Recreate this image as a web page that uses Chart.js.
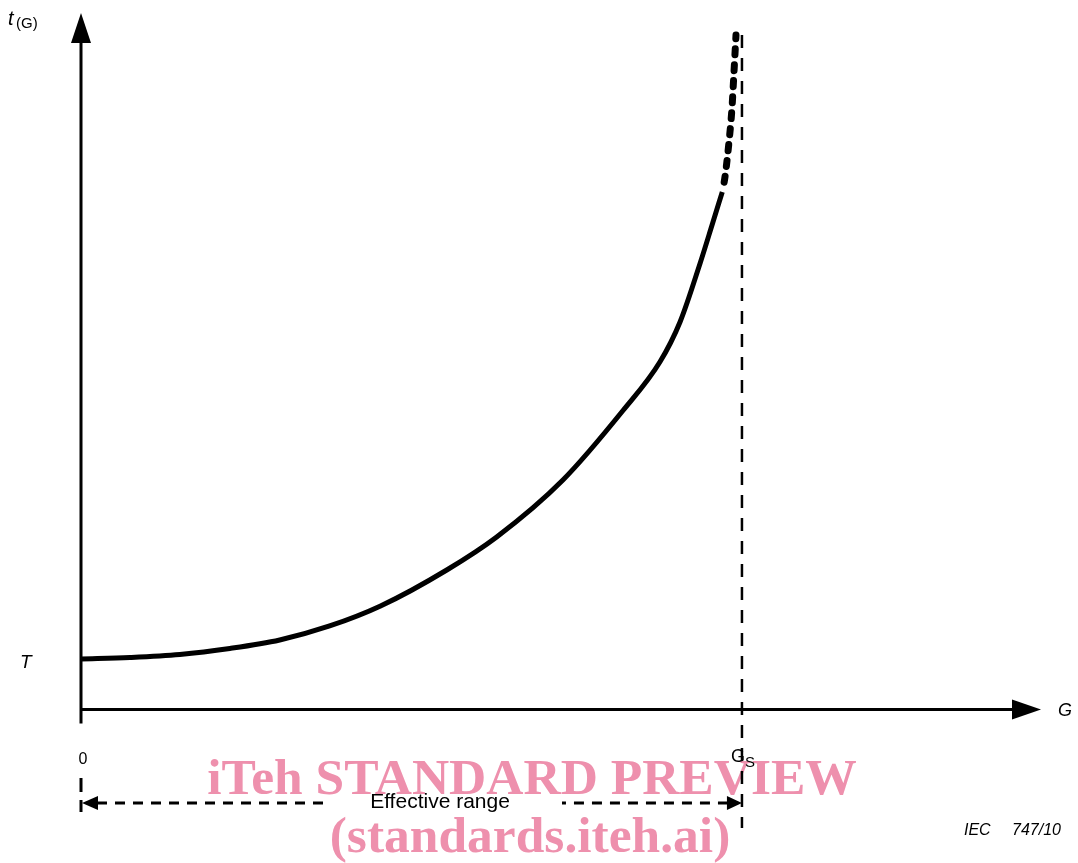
<!DOCTYPE html>
<html>
<head>
<meta charset="utf-8">
<script src="https://cdn.jsdelivr.net/npm/chart.js@4.4.1/dist/chart.umd.min.js"></script>
<style>
  html, body { margin: 0; padding: 0; background: #ffffff; }
  #wrap { width: 1078px; height: 863px; }
</style>
</head>
<body>
<div id="wrap"><canvas id="c" width="1078" height="863"></canvas></div>
<script>
// Measured curve t(G) (solid part, effective range)
const gValues = [0, 5.1, 10.3, 15.5, 20.7, 25.9, 31.2, 38.1, 43.3, 50.2, 56.5, 60.3, 62.4, 64.5, 65.8, 66.8];
const tValues = [7.25, 7.47, 7.9, 8.76, 9.98, 11.99, 14.86, 20.03, 24.77, 32.95, 43.0, 49.89, 55.64, 64.11, 69.85, 74.3];
// Extrapolated part (dashed) approaching saturation
const gExtrap = [66.8, 67.08, 67.5, 67.81, 68.02, 68.23];
const tExtrap = [74.3, 76.44, 81.5, 86.36, 91.53, 96.84];
// Reference values
const gSaturation = 68.85;
const gZero = 0;
const tThreshold = 7.25;
// Labels
const xAxisLabel = 'G';
const yAxisLabel = 't';
const yAxisSub = '(G)';
const tLabel = 'T';
const zeroLabel = '0';
const gsLabel = 'G';
const gsSub = 'S';
const rangeLabel = 'Effective range';
const figureId = ['IEC', '747/10'];
const watermark = ['iTeh STANDARD PREVIEW', '(standards.iteh.ai)'];

const solidData = gValues.map((g, i) => ({ x: g, y: tValues[i] }));
const dashData = gExtrap.map((g, i) => ({ x: g, y: tExtrap[i] }));

function arrowHead(ctx, tipX, tipY, dir, len, half) {
  ctx.beginPath();
  if (dir === 'up') {
    ctx.moveTo(tipX, tipY); ctx.lineTo(tipX - half, tipY + len); ctx.lineTo(tipX + half, tipY + len);
  } else if (dir === 'right') {
    ctx.moveTo(tipX, tipY); ctx.lineTo(tipX - len, tipY - half); ctx.lineTo(tipX - len, tipY + half);
  } else if (dir === 'left') {
    ctx.moveTo(tipX, tipY); ctx.lineTo(tipX + len, tipY - half); ctx.lineTo(tipX + len, tipY + half);
  }
  ctx.closePath();
  ctx.fill();
}

const decor = {
  id: 'decor',
  beforeDatasetsDraw(chart) {
    const ctx = chart.ctx;
    const xs = chart.scales.x, ys = chart.scales.y;
    const x0 = xs.getPixelForValue(gZero);
    const y0 = ys.getPixelForValue(0);
    const xGs = xs.getPixelForValue(gSaturation);
    const xEnd = xs.getPixelForValue(xs.max);
    const yTop = ys.getPixelForValue(ys.max);
    ctx.save();
    // watermark
    ctx.fillStyle = '#EE90AD';
    ctx.font = 'bold 51.5px "Liberation Serif", "Times New Roman", serif';
    ctx.textAlign = 'center';
    ctx.textBaseline = 'alphabetic';
    ctx.fillText(watermark[0], 532, 794);
    ctx.fillText(watermark[1], 530, 852);

    ctx.strokeStyle = '#000';
    ctx.fillStyle = '#000';
    // y axis
    ctx.lineWidth = 3;
    ctx.setLineDash([]);
    ctx.beginPath();
    ctx.moveTo(x0, y0 + 14);
    ctx.lineTo(x0, yTop + 25);
    ctx.stroke();
    arrowHead(ctx, x0, yTop, 'up', 30, 10);
    // x axis
    ctx.beginPath();
    ctx.moveTo(x0 - 1, y0);
    ctx.lineTo(xEnd - 25, y0);
    ctx.stroke();
    arrowHead(ctx, xEnd, y0, 'right', 29, 10);

    // Gs vertical dashed line
    ctx.lineWidth = 2.5;
    ctx.setLineDash([13, 10]);
    ctx.beginPath();
    ctx.moveTo(xGs, 35);
    ctx.lineTo(xGs, 828);
    ctx.stroke();

    // zero vertical dashed tick
    ctx.lineWidth = 3;
    ctx.setLineDash([14, 8]);
    ctx.beginPath();
    ctx.moveTo(x0, 778);
    ctx.lineTo(x0, 812);
    ctx.stroke();

    // effective range arrow
    const yR = 803;
    ctx.setLineDash([10, 8]);
    ctx.beginPath();
    ctx.moveTo(x0 + 16, yR);
    ctx.lineTo(323, yR);
    ctx.stroke();
    ctx.beginPath();
    ctx.moveTo(xGs - 14, yR);
    ctx.lineTo(562, yR);
    ctx.stroke();
    ctx.setLineDash([]);
    arrowHead(ctx, x0 + 1, yR, 'left', 16, 7);
    arrowHead(ctx, xGs, yR, 'right', 15, 7);

    // texts
    ctx.textAlign = 'left';
    ctx.font = 'italic 20px "Liberation Sans", Arial, sans-serif';
    ctx.fillText(yAxisLabel, 8, 25);
    ctx.font = '15px "Liberation Sans", Arial, sans-serif';
    ctx.fillText(yAxisSub, 16, 28);

    ctx.font = 'italic 19px "Liberation Sans", Arial, sans-serif';
    ctx.fillText(tLabel, 20, ys.getPixelForValue(tThreshold) + 9);

    ctx.font = 'italic 18px "Liberation Sans", Arial, sans-serif';
    ctx.fillText(xAxisLabel, 1058, 716);

    ctx.font = '16px "Liberation Sans", Arial, sans-serif';
    ctx.textAlign = 'center';
    ctx.fillText(zeroLabel, x0 + 2, 764);

    ctx.textAlign = 'left';
    ctx.font = '18px "Liberation Sans", Arial, sans-serif';
    ctx.fillText(gsLabel, xGs - 11, 762);
    ctx.font = '15px "Liberation Sans", Arial, sans-serif';
    ctx.fillText(gsSub, xGs + 3, 767);

    ctx.textAlign = 'center';
    ctx.font = '21px "Liberation Sans", Arial, sans-serif';
    ctx.fillText(rangeLabel, 440, 808);

    ctx.textAlign = 'left';
    ctx.font = 'italic 16px "Liberation Sans", Arial, sans-serif';
    ctx.fillText(figureId[0], 964, 835);
    ctx.fillText(figureId[1], 1012, 835);
    ctx.restore();
  }
};

new Chart(document.getElementById('c'), {
  type: 'line',
  data: {
    datasets: [
      {
        data: solidData,
        borderColor: '#000',
        borderWidth: 5,
        pointRadius: 0,
        fill: false,
        cubicInterpolationMode: 'monotone',
        borderCapStyle: 'butt'
      },
      {
        data: dashData,
        borderColor: '#000',
        borderWidth: 7,
        pointRadius: 0,
        fill: false,
        cubicInterpolationMode: 'monotone',
        borderDash: [6, 10],
        borderDashOffset: 6,
        borderCapStyle: 'round'
      }
    ]
  },
  options: {
    responsive: false,
    animation: false,
    events: [],
    layout: { padding: { left: 81, right: 37, top: 13, bottom: 153.5 } },
    plugins: { legend: { display: false }, tooltip: { enabled: false } },
    scales: {
      x: { type: 'linear', min: 0, max: 100, display: false },
      y: { type: 'linear', min: 0, max: 100, display: false }
    }
  },
  plugins: [decor]
});
</script>
</body>
</html>
